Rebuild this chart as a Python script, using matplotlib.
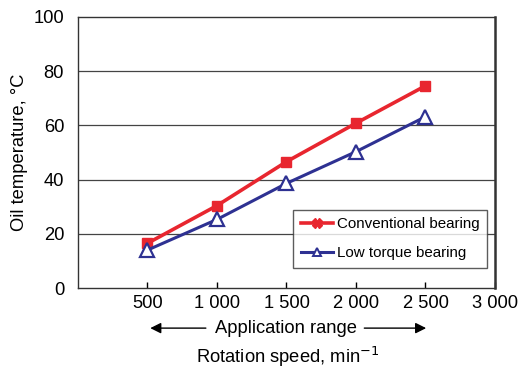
import matplotlib.pyplot as plt
from matplotlib.lines import Line2D
import matplotlib.transforms as mtransforms

plt.rcParams['font.family'] = ['Liberation Sans', 'DejaVu Sans']

speed = [500, 1000, 1500, 2000, 2500]
conventional = [16.5, 30.4, 46.6, 60.8, 74.6]
low_torque = [14.0, 25.3, 38.6, 50.3, 63.2]
xticks = [500, 1000, 1500, 2000, 2500, 3000]
xtick_labels = ["500", "1 000", "1 500", "2 000", "2 500", "3 000"]
yticks = [0, 20, 40, 60, 80, 100]

red = '#e8262f'
blue = '#2e3192'
fs = 13.2

fig = plt.figure(figsize=(5.21, 3.69), dpi=100)
ax = fig.add_axes([0.1497, 0.2195, 0.8003, 0.7345])

ax.plot(speed, conventional, color=red, lw=2.6, marker='s', ms=7.5,
        mfc=red, mec=red, zorder=3)
ax.plot(speed, low_torque, color=blue, lw=2.2, marker='^', ms=10.5,
        mfc='white', mec=blue, mew=1.6, zorder=3)

ax.set_xlim(0, 3000)
ax.set_ylim(0, 100)
ax.set_xticks(xticks)
ax.set_xticklabels(xtick_labels)
ax.set_yticks(yticks)
ax.tick_params(axis='x', direction='in', length=4, width=1, labelsize=fs, pad=5)
ax.tick_params(axis='y', length=0, labelsize=fs, pad=10)
for y in yticks[1:-1]:
    ax.axhline(y, color='#444444', lw=0.9, zorder=1)
for s in ax.spines.values():
    s.set_color('#333333')
    s.set_linewidth(1.0)
ax.spines['right'].set_linewidth(1.8)

ax.set_ylabel('Oil temperature, °C', fontsize=fs, labelpad=4)

# application range arrows under the axis
trans = mtransforms.blended_transform_factory(ax.transData, ax.transAxes)
ax.text(1500, -0.148, 'Application range', transform=trans, ha='center',
        va='center', fontsize=fs)
arrow = dict(arrowstyle='-|>', color='black', lw=1.0, mutation_scale=16)
ax.annotate('', xy=(500, -0.148), xytext=(940, -0.148), xycoords=trans,
            textcoords=trans, arrowprops=arrow, annotation_clip=False)
ax.annotate('', xy=(2525, -0.148), xytext=(2040, -0.148), xycoords=trans,
            textcoords=trans, arrowprops=arrow, annotation_clip=False)
fig.text(0.552, 0.016, 'Rotation speed, min$^{-1}$', ha='center',
         va='baseline', fontsize=fs)

handles = [
    Line2D([], [], color=red, lw=2.6, marker='X', ms=7, mfc=red, mec=red),
    Line2D([], [], color=blue, lw=2.2, marker='^', ms=6, mfc='white',
           mec=blue, mew=1.4),
]
leg = ax.legend(handles, ['Conventional bearing', 'Low torque bearing'],
                loc='lower right', bbox_to_anchor=(0.981, 0.074), fontsize=10.9,
                frameon=True, fancybox=False, edgecolor='#333333',
                handlelength=2.15, handletextpad=0.25, borderpad=0.5,
                labelspacing=1.0, borderaxespad=0)
leg.get_frame().set_linewidth(1.0)

fig.savefig('out.png', dpi=100)
